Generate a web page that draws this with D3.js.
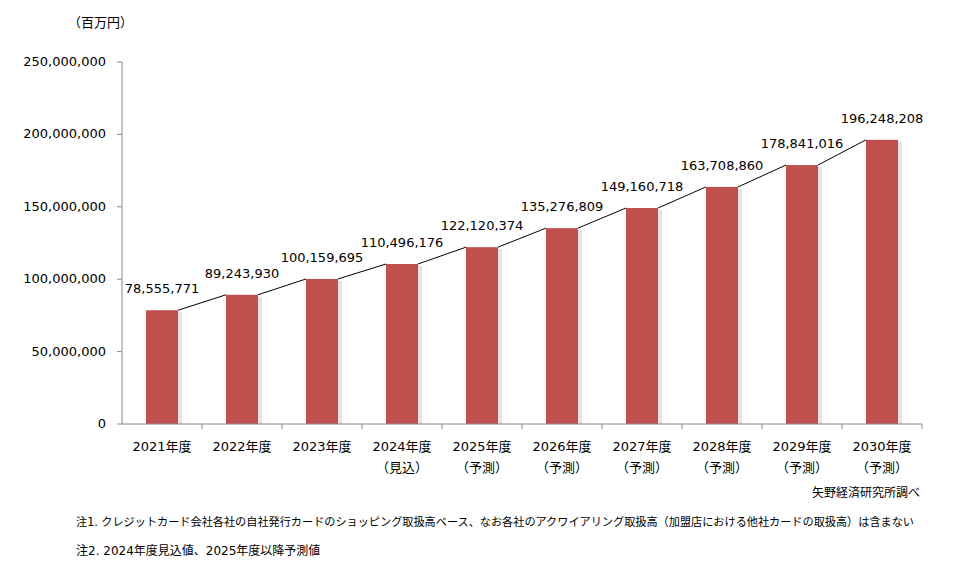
<!DOCTYPE html><html><head><meta charset="utf-8"><script src="https://cdn.jsdelivr.net/npm/d3@7"></script>
<style>body{margin:0;background:#fff}text{font-family:"DejaVu Sans","Noto Sans CJK JP",sans-serif;fill:#000}</style></head><body><svg id="c" width="968" height="579"></svg><script>
const categories=["2021年度","2022年度","2023年度","2024年度","2025年度","2026年度","2027年度","2028年度","2029年度","2030年度"];
const subLabels=["","","","（見込）","（予測）","（予測）","（予測）","（予測）","（予測）","（予測）"];
const values=[78555771,89243930,100159695,110496176,122120374,135276809,149160718,163708860,178841016,196248208];
const yTicks=[0,50000000,100000000,150000000,200000000,250000000];
const svg=d3.select("#c");
const X0=122,X1=922;
const x=d3.scaleBand().domain(categories).range([X0,X1]).paddingInner(0.6).paddingOuter(0.3);
const y=d3.scaleLinear().domain([0,250000000]).range([424,62]);
const fmt=d3.format(",");
const cat=d3.scaleBand().domain(categories).range([X0,X1]);
svg.selectAll(".sh").data(values).join("rect").attr("x",(d,i)=>x(categories[i])+x.bandwidth()).attr("y",d=>y(d)+2).attr("width",4).attr("height",d=>424-y(d)-2).attr("fill","#e4e4e4");
svg.selectAll(".b").data(values).join("rect").attr("x",(d,i)=>x(categories[i])).attr("y",d=>y(d)).attr("width",x.bandwidth()).attr("height",d=>424-y(d)).attr("fill","#C0504D");
for(let i=0;i<values.length-1;i++){svg.append("line").attr("x1",x(categories[i])+x.bandwidth()).attr("y1",y(values[i])).attr("x2",x(categories[i+1])).attr("y2",y(values[i+1])).attr("stroke","#000").attr("stroke-width",1);}
svg.selectAll(".vl").data(values).join("text").attr("x",(d,i)=>x(categories[i])+x.bandwidth()/2).attr("y",d=>y(d)-17).attr("text-anchor","middle").attr("font-size",13).text(d=>fmt(d));
svg.append("line").attr("x1",X0).attr("x2",X0).attr("y1",62).attr("y2",424).attr("stroke","#888");
svg.append("line").attr("x1",X0).attr("x2",X1).attr("y1",424).attr("y2",424).attr("stroke","#888");
yTicks.forEach(t=>{svg.append("line").attr("x1",117).attr("x2",X0).attr("y1",y(t)).attr("y2",y(t)).attr("stroke","#888");
svg.append("text").attr("x",106).attr("y",y(t)+4).attr("text-anchor","end").attr("font-size",13).text(fmt(t));});
categories.forEach((c,i)=>{svg.append("line").attr("x1",cat(c)+cat.bandwidth()).attr("x2",cat(c)+cat.bandwidth()).attr("y1",424).attr("y2",429).attr("stroke","#888");
const cx=x(c)+x.bandwidth()/2;
svg.append("text").attr("x",cx).attr("y",451).attr("text-anchor","middle").attr("font-size",13).text(c);
if(subLabels[i])svg.append("text").attr("x",cx).attr("y",472).attr("text-anchor","middle").attr("font-size",13).text(subLabels[i]);});
svg.append("text").attr("x",68).attr("y",27).attr("font-size",13).text("（百万円）");
svg.append("text").attr("x",920).attr("y",497).attr("text-anchor","end").attr("font-size",12).text("矢野経済研究所調べ");
svg.append("text").attr("x",76).attr("y",526).attr("font-size",11.5).attr("textLength",838).attr("lengthAdjust","spacingAndGlyphs").text("注1. クレジットカード会社各社の自社発行カードのショッピング取扱高ベース、なお各社のアクワイアリング取扱高（加盟店における他社カードの取扱高）は含まない");
svg.append("text").attr("x",76).attr("y",555).attr("font-size",12).text("注2. 2024年度見込値、2025年度以降予測値");
</script></body></html>
